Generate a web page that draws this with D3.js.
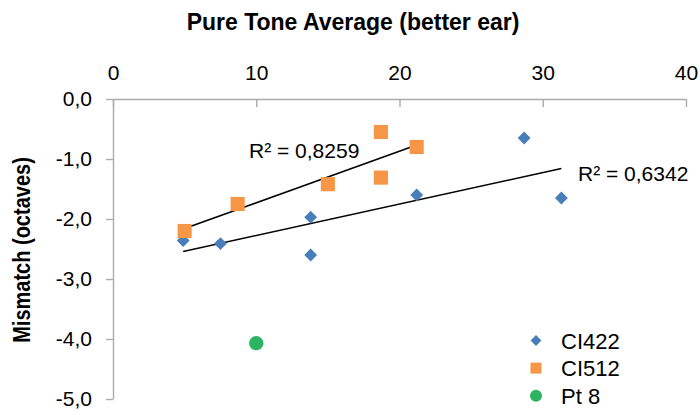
<!DOCTYPE html>
<html>
<head>
<meta charset="utf-8">
<script src="https://cdn.jsdelivr.net/npm/d3@7"></script>
<style>
  html, body { margin: 0; padding: 0; background: #fff; }
  svg text { font-family: "Liberation Sans", Arial, sans-serif; fill: #000; }
</style>
</head>
<body>
<svg id="chart" width="700" height="415"></svg>
<script>
// Pure tone average (dB, better ear) against pitch mismatch (octaves)
const ci422X = [4.9, 7.5, 13.8, 13.8, 21.2, 28.7, 31.3];
const ci422Y = [-2.36, -2.41, -1.97, -2.60, -1.60, -0.65, -1.65];
const ci512X = [5.0, 8.7, 15.0, 18.7, 18.7, 21.2];
const ci512Y = [-2.20, -1.75, -1.42, -0.55, -1.31, -0.80];
const pt8X = [10.0];
const pt8Y = [-4.07];

const seriesNames = ["CI422", "CI512", "Pt 8"];
const r2Labels = ["R² = 0,6342", "R² = 0,8259"];
const xTicks = [0, 10, 20, 30, 40];
const yTicks = [0, -1, -2, -3, -4, -5];
const xTitle = "Pure Tone Average (better ear)";
const yTitle = "Mismatch (octaves)";

const svg = d3.select("#chart");
const x = d3.scaleLinear().domain([0, 40]).range([113, 686]);
const y = d3.scaleLinear().domain([0, -5]).range([99, 399]);

const loc = d3.formatLocale({ decimal: ",", thousands: ".", grouping: [3], currency: ["", ""], minus: "-" });
const fmt = loc.format(".1f");

const axisColor = "#ABABAB";

// X axis along the top edge, ticks pointing into the plot
const gx = svg.append("g").attr("transform", `translate(0,${y(0)})`)
  .call(d3.axisTop(x).tickValues(xTicks).tickSizeInner(-8).tickSizeOuter(0).tickPadding(19).tickFormat(d3.format("d")));
// Y axis on the left, ticks pointing outward
const gy = svg.append("g").attr("transform", `translate(${x(0)},0)`)
  .call(d3.axisLeft(y).tickValues(yTicks).tickSizeInner(7).tickSizeOuter(0).tickPadding(14).tickFormat(fmt));

[gx, gy].forEach(g => {
  g.select(".domain").attr("stroke", axisColor).attr("stroke-width", 1.4);
  g.selectAll(".tick line").attr("stroke", axisColor).attr("stroke-width", 1.4);
  g.selectAll(".tick text").attr("font-size", 21).attr("fill", "#000")
    .style("font-family", '"Liberation Sans", Arial, sans-serif');
});

// Titles
svg.append("text").attr("x", 353).attr("y", 30).attr("text-anchor", "middle")
  .attr("font-size", 23).attr("font-weight", "bold").text(xTitle);
svg.append("text").attr("transform", "translate(30,250) rotate(-90) scale(1,1.15)").attr("text-anchor", "middle")
  .attr("font-size", 20).attr("font-weight", "bold").text(yTitle);

// Least-squares trend line over the range of a series
function fit(xs, ys) {
  const mx = d3.mean(xs), my = d3.mean(ys);
  let sxy = 0, sxx = 0;
  xs.forEach((v, i) => { sxy += (v - mx) * (ys[i] - my); sxx += (v - mx) * (v - mx); });
  const b = sxy / sxx, a = my - b * mx;
  const x0 = d3.min(xs), x1 = d3.max(xs);
  return [[x0, a + b * x0], [x1, a + b * x1]];
}

const trendLine = d3.line().x(d => x(d[0])).y(d => y(d[1]));
[[ci422X, ci422Y], [ci512X, ci512Y]].forEach(([xs, ys]) => {
  svg.append("path").attr("d", trendLine(fit(xs, ys)))
    .attr("fill", "none").attr("stroke", "#000").attr("stroke-width", 1.5);
});

const colors = ["#4A7EBB", "#F79646", "#2DB463"];
const symbols = [d3.symbolDiamond2, d3.symbolSquare, d3.symbolCircle];

function drawPoints(xs, ys, i, size) {
  svg.append("g").selectAll("path").data(xs.map((v, k) => [v, ys[k]])).join("path")
    .attr("transform", d => `translate(${x(d[0])},${y(d[1])})`)
    .attr("d", d3.symbol().type(symbols[i]).size(size))
    .attr("fill", colors[i]);
}
drawPoints(ci422X, ci422Y, 0, 105);
drawPoints(ci512X, ci512Y, 1, 200);
drawPoints(pt8X, pt8Y, 2, 160);

// R² annotations
svg.append("text").attr("x", 578).attr("y", 181).attr("font-size", 21).text(r2Labels[0]);
svg.append("text").attr("x", 249).attr("y", 158).attr("font-size", 21).text(r2Labels[1]);

// Legend
const legendSizes = [75, 121, 113];
const legend = svg.append("g");
seriesNames.forEach((name, i) => {
  const ly = 340.5 + i * 27.6;
  legend.append("path").attr("transform", `translate(536,${ly})`)
    .attr("d", d3.symbol().type(symbols[i]).size(legendSizes[i]))
    .attr("fill", colors[i]);
  legend.append("text").attr("x", 561).attr("y", ly + 8).attr("font-size", 22).text(name);
});
</script>
</body>
</html>
